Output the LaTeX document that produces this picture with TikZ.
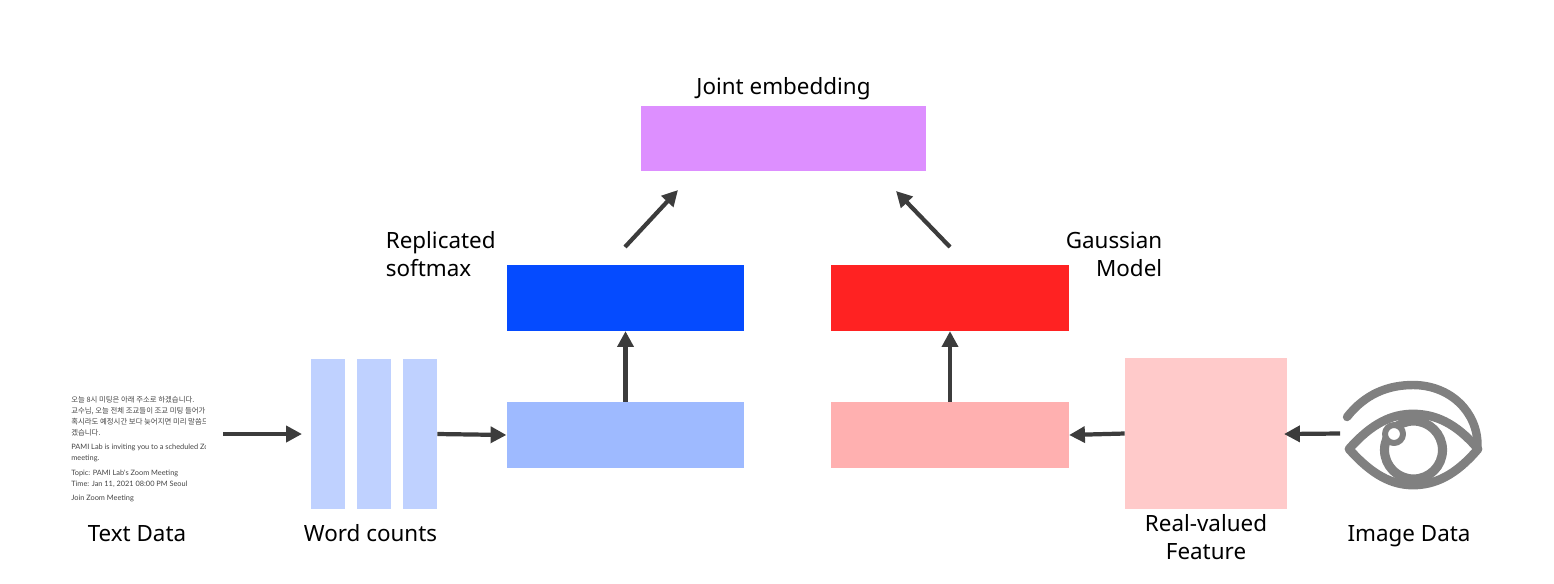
\documentclass[tikz,border=0pt]{standalone}
\usepackage{xcolor}
\usepackage{fontspec}
\setmainfont{Noto Sans}
\newfontfamily\krfont{Noto Sans CJK KR}
\newfontfamily\mailfont{Lato}
\usetikzlibrary{arrows.meta, positioning}
\definecolor{jointcol}{HTML}{DD8FFF}
\definecolor{bluecol}{HTML}{054BFF}
\definecolor{lblue}{HTML}{9EBAFF}
\definecolor{wordcol}{HTML}{BFD1FF}
\definecolor{redcol}{HTML}{FF2222}
\definecolor{lred}{HTML}{FFB0B0}
\definecolor{featcol}{HTML}{FFCACA}
\definecolor{arrowcol}{HTML}{3C3C3C}
\definecolor{eyecol}{HTML}{808080}
\definecolor{mailcol}{HTML}{444444}

\begin{document}
\begin{tikzpicture}[
    x=0.02cm, y=-0.02cm,
    block/.style={rectangle, inner sep=0pt, minimum width=4.75cm, minimum height=1.31cm},
    wordbar/.style={rectangle, fill=wordcol, inner sep=0pt, minimum width=0.68cm, minimum height=3cm},
    caption/.style={font=\fontsize{12.75pt}{16pt}\selectfont, text=black, inner sep=0pt, anchor=base},
    flow/.style={draw=arrowcol, line width=2.4pt, -{Triangle[length=9pt,width=9pt]}},
    mail/.style={anchor=base west, inner sep=0pt, text=mailcol, font=\fontsize{4.2pt}{5pt}\mailfont},
    eyeline/.style={draw=eyecol, line width=4.8pt, line join=round}
]
\useasboundingbox (0,0) rectangle (1554,583);

% blocks
\node[block, fill=jointcol, minimum width=5.7cm] (joint) at (783.5,138.5) {};
\node[block, fill=bluecol] (soft) at (625.5,298) {};
\node[block, fill=redcol] (gauss) at (950,298) {};
\node[block, fill=lblue] (lowblue) at (625.5,435) {};
\node[block, fill=lred] (lowred) at (950,435) {};
\node[rectangle, fill=featcol, inner sep=0pt, minimum width=3.24cm, minimum height=3.02cm] (feat) at (1206,433.5) {};
\node[wordbar] (wc1) at (328,434) {};
\node[wordbar] (wc2) at (374,434) {};
\node[wordbar] (wc3) at (420,434) {};

% captions
\node[caption] (jointlab) at (783.5,94) {Joint embedding};
\node[caption, align=left, anchor=west] (softlab) at (385.5,254) {Replicated\\softmax};
\node[caption, align=right, anchor=east] (gausslab) at (1162.5,254) {Gaussian\\Model};
\node[caption] (textlab) at (137,541) {Text Data};
\node[caption] (wordlab) at (370.5,541) {Word counts};
\node[caption, align=center, anchor=center] (featlab) at (1206,537) {Real-valued\\Feature};
\node[caption] (imglab) at (1409,541) {Image Data};

% mail text, cut off on the right
\begin{scope}
\clip (60,390) rectangle (205,505);
\node[mail, font=\fontsize{4.2pt}{5pt}\krfont] (m1) at (71,402.5) {오늘 8시 미팅은 아래 주소로 하겠습니다.};
\node[mail, font=\fontsize{4.2pt}{5pt}\krfont] (m2) at (71,413.5) {교수님, 오늘 전체 조교들이 조교 미팅 들어가야 합니다};
\node[mail, font=\fontsize{4.2pt}{5pt}\krfont] (m3) at (71,424.5) {혹시라도 예정시간 보다 늦어지면 미리 말씀드리};
\node[mail, font=\fontsize{4.2pt}{5pt}\krfont] (m4) at (71,435.5) {겠습니다.};
\node[mail] (m5) at (71,449) {PAMI Lab is inviting you to a scheduled Zoom};
\node[mail] (m6) at (71,460) {meeting.};
\node[mail] (m7) at (71,475) {Topic: PAMI Lab's Zoom Meeting};
\node[mail] (m8) at (71,486) {Time: Jan 11, 2021 08:00 PM Seoul};
\node[mail] (m9) at (71,500) {Join Zoom Meeting};
\end{scope}

% eye
\draw[eyeline, line width=5.2pt] (1413.5,450) circle[radius=29];
\draw[eyeline, line width=5pt] (1349,449) .. controls (1372,423) and (1392,414) .. (1413,414)
    .. controls (1435,414) and (1456,423) .. (1478,449)
    .. controls (1456,475) and (1435,485) .. (1413,485)
    .. controls (1392,485) and (1372,475) .. (1349,449) -- cycle;
\draw[eyeline, line cap=round] (1347,417) .. controls (1365,394) and (1388,385) .. (1413,385)
    .. controls (1450,385) and (1478,412) .. (1477.5,446);
\draw[eyeline, line width=3.4pt, fill=white] (1394,434) circle[radius=9];

% free ends
\coordinate (textout) at (223,434);
\coordinate (wcin) at (302,434);
\coordinate (softout) at (625,247);
\coordinate (jointinl) at (678,190);
\coordinate (gaussout) at (950,247);
\coordinate (jointinr) at (896,191);
\coordinate (eyeout) at (1340,433.5);
\coordinate (featin) at (1284,434);

% arrows
\draw[flow] (textout) -- (wcin);
\draw[flow] (wc3.east) -- (lowblue.west);
\draw[flow] (lowblue.north) -- (soft.south);
\draw[flow] (lowred.north) -- (gauss.south);
\draw[flow] (softout) -- (jointinl);
\draw[flow] (gaussout) -- (jointinr);
\draw[flow] (feat.west) -- (lowred.east);
\draw[flow] (eyeout) -- (featin);
\end{tikzpicture}
\end{document}
